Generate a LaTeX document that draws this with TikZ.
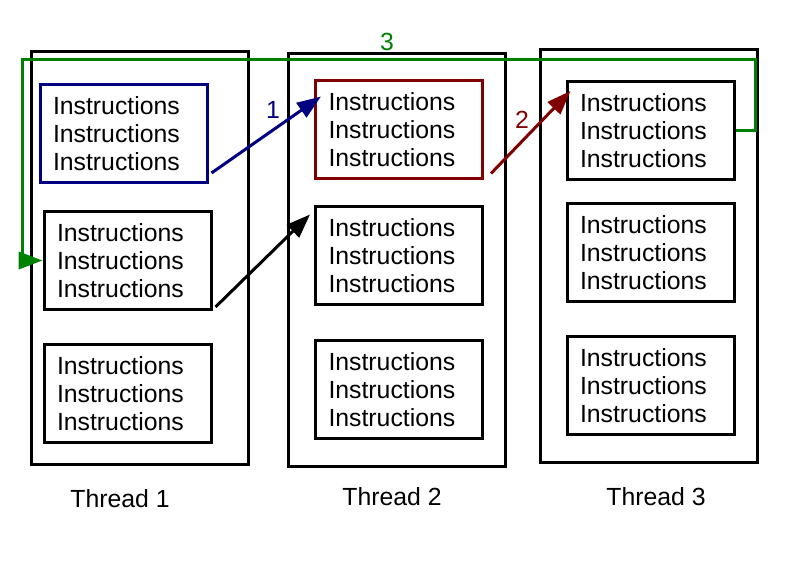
\documentclass[tikz,border=0pt]{standalone}
\usepackage{fontspec}
\setmainfont{Liberation Sans}
\usepackage{xcolor}
\usetikzlibrary{arrows.meta}
\definecolor{tblue}{RGB}{0,0,128}
\definecolor{tred}{RGB}{128,0,0}
\definecolor{tgreen}{RGB}{0,128,0}

\begin{document}
\begin{tikzpicture}[x=0.75pt,y=-0.75pt,
        thread/.style={draw,line width=2.25pt,minimum width=162.75pt,minimum height=309.75pt,inner sep=0pt},
        instr/.style={draw,line width=2.25pt,fill=white,minimum width=125.25pt,minimum height=73.5pt,
            inner xsep=9.75pt,text width=105.75pt,align=left,font=\fontsize{18.6}{21}\selectfont},
        lbl/.style={font=\fontsize{18.6}{21}\selectfont,inner sep=0pt},
        link/.style={line width=2.25pt,-{Triangle[length=18pt,width=13pt]}}]
            \useasboundingbox(0,0)rectangle(786,584);

            \node[thread](t1)at(139.5,258.5){};
            \node[thread](t2)at(397,260){};
            \node[thread](t3)at(648.5,256){};

            \node[instr,draw=tblue](b11)at(123.5,133.5){Instructions\\Instructions\\Instructions};
            \node[instr](b12)at(127.5,260.5){Instructions\\Instructions\\Instructions};
            \node[instr](b13)at(127.5,393.5){Instructions\\Instructions\\Instructions};

            \node[instr,draw=tred](b21)at(399,130){Instructions\\Instructions\\Instructions};
            \node[instr](b22)at(399,256){Instructions\\Instructions\\Instructions};
            \node[instr](b23)at(399,390){Instructions\\Instructions\\Instructions};

            \node[instr](b31)at(650.5,130.5){Instructions\\Instructions\\Instructions};
            \node[instr](b32)at(650.5,253){Instructions\\Instructions\\Instructions};
            \node[instr](b33)at(650.5,386){Instructions\\Instructions\\Instructions};

            \node[lbl](l1)at(120,499){Thread 1};
            \node[lbl](l2)at(392,497){Thread 2};
            \node[lbl](l3)at(656,497){Thread 3};

            % numbered jumps
            \draw[link,tblue]([xshift=2.25pt,yshift=8.25pt]b11.south east)--([xshift=5.25pt,yshift=-12.75pt]b21.north west);
            \node[lbl,tblue](n1)at(273,110){1};
            \draw[link]([xshift=2.25pt,yshift=3pt]b12.south east)--([xshift=-3pt,yshift=-6.75pt]b22.north west);
            \draw[link,tred]([xshift=5.25pt,yshift=5.25pt]b21.south east)--([xshift=3.75pt,yshift=-8.25pt]b31.north west);
            \node[lbl,tred](n2)at(522,120){2};

            \coordinate(gr)at(755,60);
            \coordinate(gl)at(22,60);
            \draw[link,tgreen](b31.east)-|(gr)--(gl)|-(b12.west);
            \node[lbl,tgreen](n3)at(387,42){3};
\end{tikzpicture}
\end{document}
